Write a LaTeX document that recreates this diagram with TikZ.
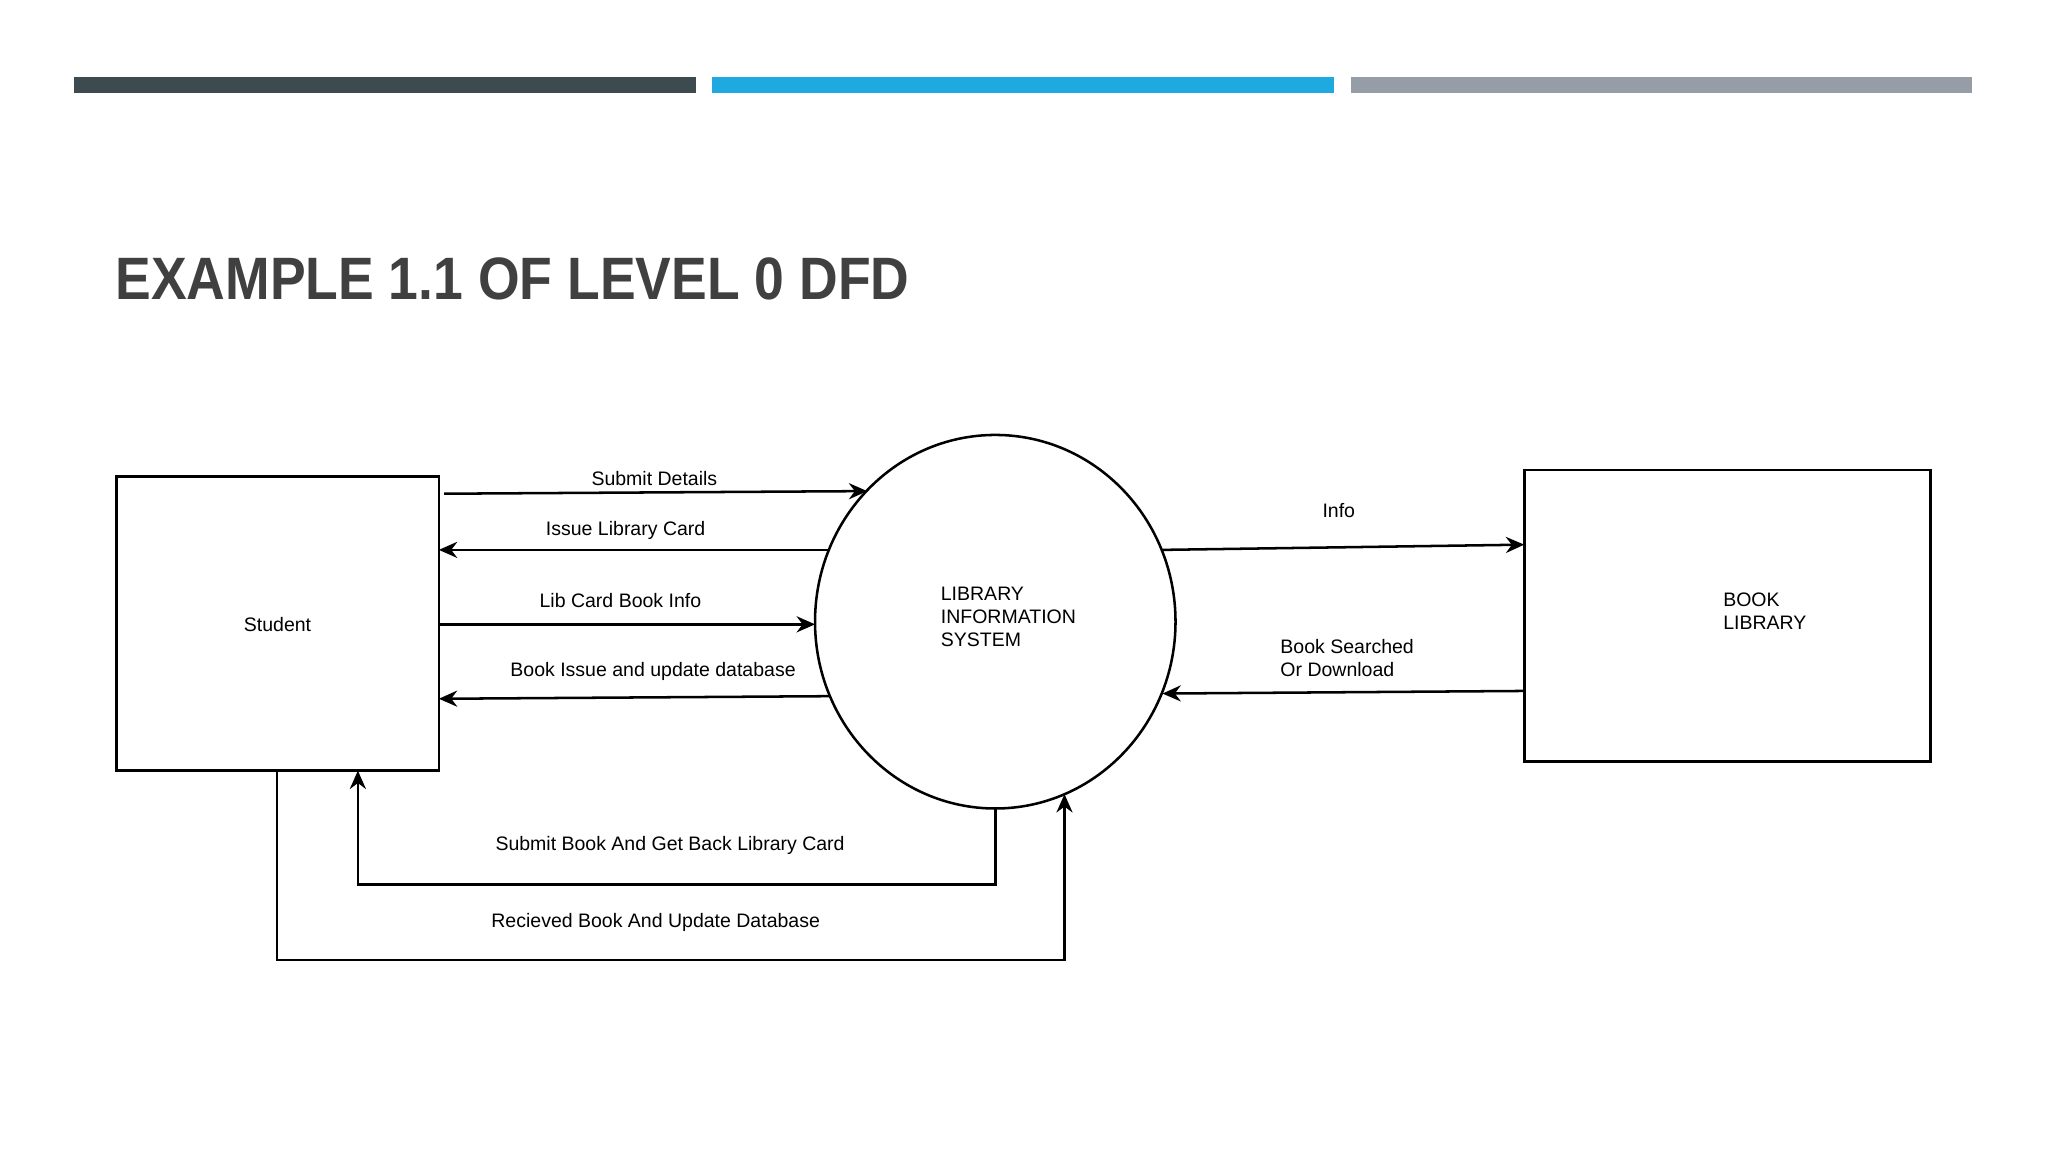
\documentclass[tikz,border=0pt]{standalone}
\usepackage{fontspec}
\usepackage{graphicx}
\setmainfont{Liberation Sans}
\usetikzlibrary{arrows.meta}
\begin{document}
\begin{tikzpicture}[x=0.02cm,y=-0.02cm,
  flow/.style={line width=1.1pt,-{Stealth[length=8pt,width=7pt]}},
  box/.style={draw,line width=1.1pt},
  lbl/.style={font=\fontsize{8.5}{10}\selectfont,inner sep=0pt},
  bar/.style={line width=0.24cm}]
\useasboundingbox (0,0) rectangle (1568,882);
\draw[bar,draw={rgb,255:red,61;green,74;blue,80}] (57,65) -- (533,65);
\draw[bar,draw={rgb,255:red,30;green,170;blue,224}] (545,65) -- (1021,65);
\draw[bar,draw={rgb,255:red,149;green,158;blue,166}] (1034,65) -- (1510,65);
\node[anchor=south west,inner sep=0pt,text={rgb,255:red,64;green,64;blue,64}] (title) at (88,230)
  {\resizebox{12.16cm}{0.64cm}{\bfseries EXAMPLE 1.1 OF LEVEL 0 DFD}};
\draw[box] (89,365) rectangle (336,590);
\node[lbl] (stu) at (212.5,478) {Student};
\draw[box] (1167,360) rectangle (1478,583);
\node[lbl,align=left,anchor=west] (lib) at (1319,468) {BOOK\\LIBRARY};
\draw[box] (762,476) ellipse [x radius=138,y radius=143];
\node[lbl,align=left,anchor=west] (sys) at (720,472) {LIBRARY\\INFORMATION\\SYSTEM};
% coordinates
\coordinate (a1) at (340,378); \coordinate (a2) at (664,376);
\coordinate (b1) at (634,421); \coordinate (b2) at (336,421);
\coordinate (c1) at (336,478); \coordinate (c2) at (624,478);
\coordinate (d1) at (636,533); \coordinate (d2) at (336,535);
\coordinate (e1) at (890,421); \coordinate (e2) at (1167,417);
\coordinate (f1) at (1167,529); \coordinate (f2) at (890,531);
\coordinate (g1) at (762,619); \coordinate (g2) at (274,590);
\coordinate (h1) at (212,590); \coordinate (h2) at (815,608);
\draw[flow] (a1) -- (a2);
\draw[flow] (b1) -- (b2);
\draw[flow] (c1) -- (c2);
\draw[flow] (d1) -- (d2);
\draw[flow] (e1) -- (e2);
\draw[flow] (f1) -- (f2);
\draw[flow] (g1) |- (274,677) -- (g2);
\draw[flow] (h1) |- (815,735) -- (h2);
\node[lbl] (la) at (501,366) {Submit Details};
\node[lbl] (lb) at (479,406) {Issue Library Card};
\node[lbl] (lc) at (475,460) {Lib Card Book Info};
\node[lbl] (ld) at (500,514) {Book Issue and update database};
\node[lbl] (le) at (1025,391) {Info};
\node[lbl,align=left,anchor=west] (lf) at (980,504) {Book Searched\\Or Download};
\node[lbl] (lg) at (513,647) {Submit Book And Get Back Library Card};
\node[lbl] (lh) at (502,706) {Recieved Book And Update Database};
\end{tikzpicture}
\end{document}
